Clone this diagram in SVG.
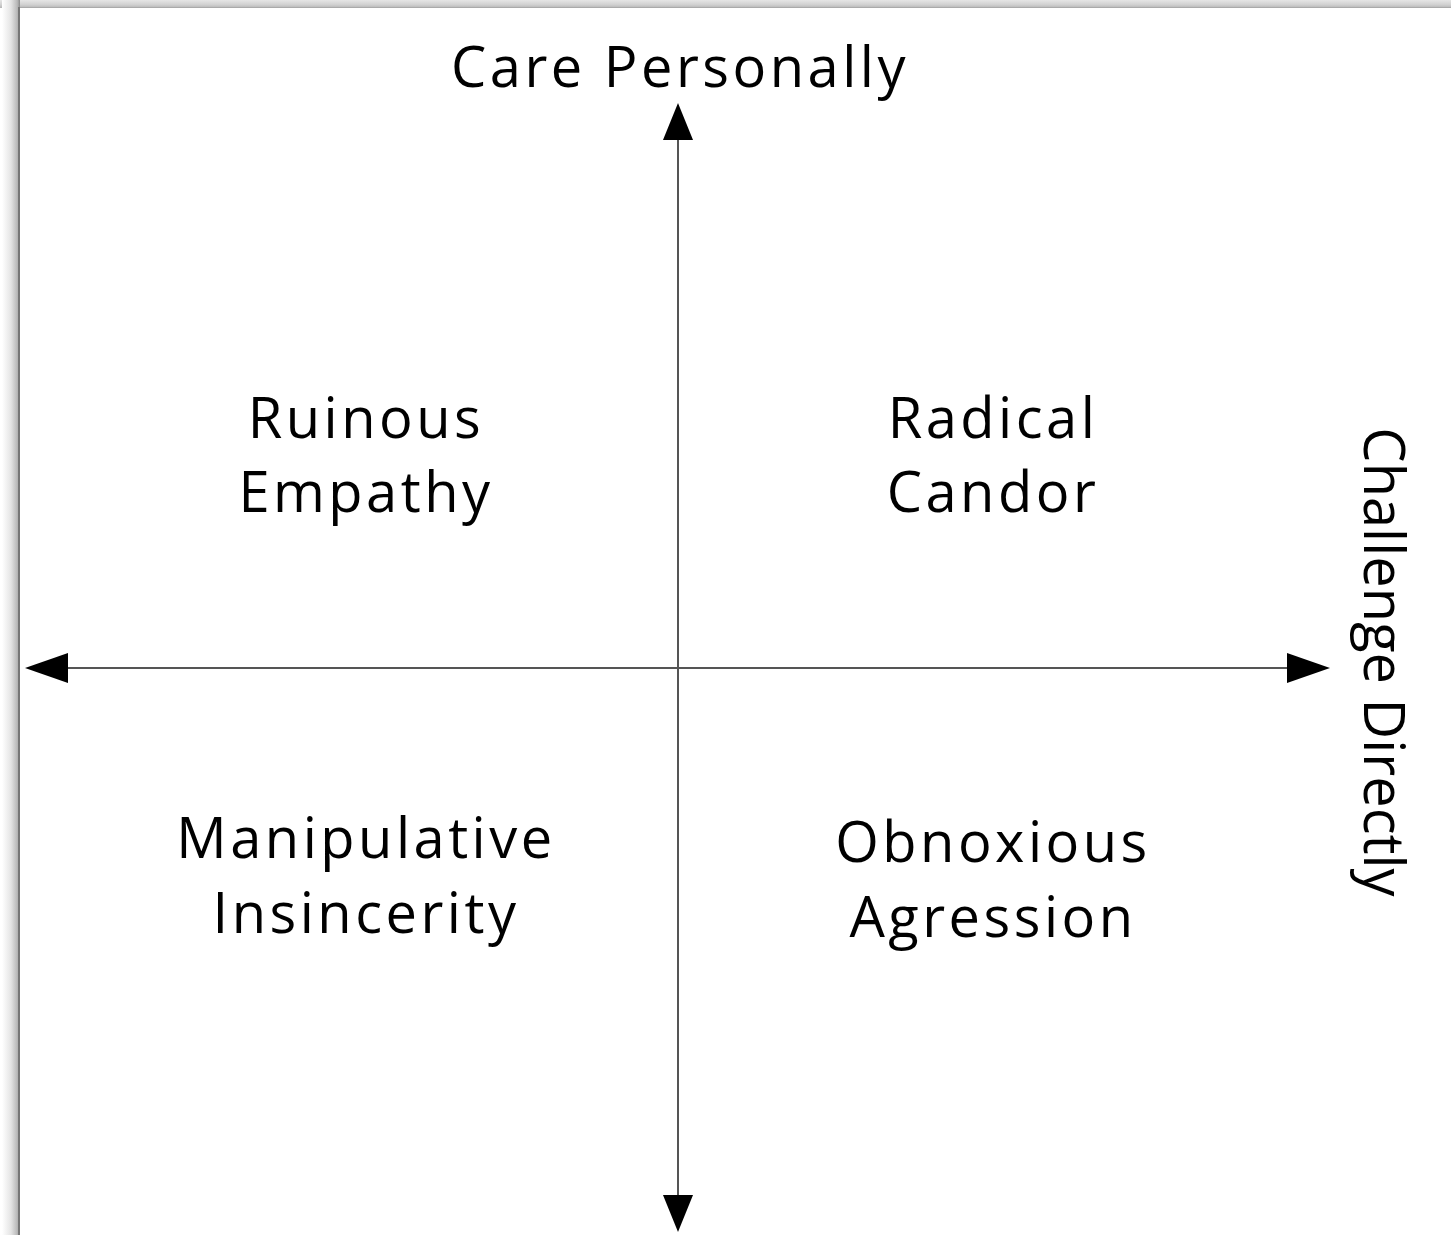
<svg xmlns="http://www.w3.org/2000/svg" width="1451" height="1235" viewBox="0 0 1451 1235">
<defs>
<linearGradient id="gl" x1="0" y1="0" x2="1" y2="0">
<stop offset="0" stop-color="#ffffff"/>
<stop offset="0.5" stop-color="#e4e4e4"/>
<stop offset="0.85" stop-color="#b8b8b8"/>
<stop offset="1" stop-color="#8a8a8a"/>
</linearGradient>
<linearGradient id="gt" x1="0" y1="0" x2="0" y2="1">
<stop offset="0" stop-color="#e6e6e6"/>
<stop offset="0.6" stop-color="#d0d0d0"/>
<stop offset="1" stop-color="#b4b4b4"/>
</linearGradient>
<style>
.lbl{font-family:"Open Sans","Liberation Sans",sans-serif;font-size:56px;fill:#000;text-anchor:middle;letter-spacing:3.5px}
.rot{font-family:"Open Sans","Liberation Sans",sans-serif;font-size:56px;fill:#000;text-anchor:middle}
.ax{stroke:#555;stroke-width:2;fill:none}
.hd{fill:#000}
</style>
</defs>
<rect width="1451" height="1235" fill="#fff"/>
<g id="frame">
<rect x="0" y="0" width="1451" height="8" fill="url(#gt)"/>
<rect x="2" y="0" width="18" height="1235" fill="url(#gl)"/>
<rect x="18" y="7" width="2" height="1228" fill="#777"/>
<rect x="20" y="7" width="1431" height="1" fill="#aaa"/>
</g>
<g id="connectors">
<line class="ax" x1="678" y1="138" x2="678" y2="1198"/>
<path class="hd" d="M678,103 L693,140 L663,140 Z"/>
<path class="hd" d="M663,1195 L693,1195 L678,1232 Z"/>
<line class="ax" x1="66" y1="668" x2="1290" y2="668"/>
<path class="hd" d="M25,668 L68,653 L68,683 Z"/>
<path class="hd" d="M1287,653 L1287,683 L1330,668 Z"/>
</g>
<g id="care-personally"><text class="lbl" x="680" y="87">Care Personally</text></g>
<g id="challenge-directly"><text class="rot" transform="translate(1364,662) rotate(90)" x="0" y="0">Challenge Directly</text></g>
<g id="ruinous-empathy"><text class="lbl" x="366" y="438">Ruinous</text><text class="lbl" x="366" y="512">Empathy</text></g>
<g id="radical-candor"><text class="lbl" x="993" y="438">Radical</text><text class="lbl" x="993" y="512">Candor</text></g>
<g id="manipulative-insincerity"><text class="lbl" x="366" y="858">Manipulative</text><text class="lbl" x="366" y="933">Insincerity</text></g>
<g id="obnoxious-agression"><text class="lbl" x="993" y="862">Obnoxious</text><text class="lbl" x="993" y="937">Agression</text></g>
</svg>
